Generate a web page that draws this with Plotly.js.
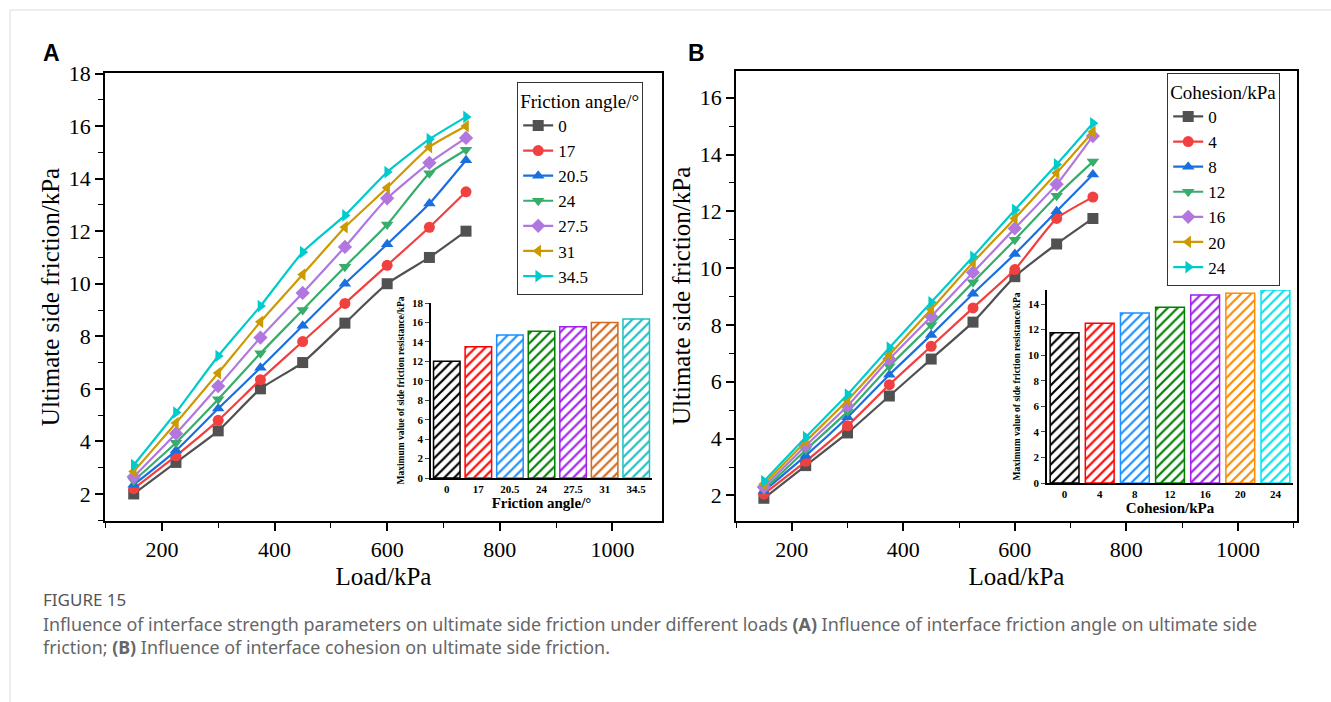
<!DOCTYPE html>
<html>
<head>
<meta charset="utf-8">
<script src="https://cdn.plot.ly/plotly-3.0.1.min.js"></script>
<style>
html,body{margin:0;padding:0;background:#fff;}
#chart{width:1331px;height:702px;}
</style>
</head>
<body>
<div id="chart"></div>
<script>
// ---------- data ----------
const loads = [150, 225, 300, 375, 450, 525, 600, 675, 740];

// Panel A: friction angle series (ultimate side friction, kPa)
const frictionAngles = ['0', '17', '20.5', '24', '27.5', '31', '34.5'];
const fa_0    = [2.0, 3.2, 4.4, 6.0, 7.0, 8.5, 10.0, 11.0, 12.0];
const fa_17   = [2.2, 3.45, 4.8, 6.35, 7.8, 9.25, 10.7, 12.15, 13.5];
const fa_20_5 = [2.35, 3.65, 5.25, 6.8, 8.4, 10.0, 11.5, 13.05, 14.7];
const fa_24   = [2.5, 3.95, 5.6, 7.35, 9.0, 10.65, 12.25, 14.2, 15.1];
const fa_27_5 = [2.65, 4.3, 6.1, 7.95, 9.65, 11.4, 13.25, 14.6, 15.55];
const fa_31   = [2.85, 4.7, 6.6, 8.55, 10.35, 12.15, 13.65, 15.2, 16.0];
const fa_34_5 = [3.1, 5.1, 7.25, 9.15, 11.2, 12.6, 14.25, 15.5, 16.35];
const maxFrictionA = [12.0, 13.5, 14.7, 15.1, 15.55, 16.0, 16.35];

// Panel B: cohesion series (ultimate side friction, kPa)
const cohesions = ['0', '4', '8', '12', '16', '20', '24'];
const co_0  = [1.9, 3.05, 4.2, 5.5, 6.8, 8.1, 9.7, 10.85, 11.75];
const co_4  = [2.05, 3.2, 4.45, 5.9, 7.25, 8.6, 9.95, 11.75, 12.5];
const co_8  = [2.15, 3.4, 4.75, 6.25, 7.65, 9.1, 10.5, 12.0, 13.3];
const co_12 = [2.2, 3.6, 4.95, 6.55, 8.0, 9.5, 11.0, 12.55, 13.75];
const co_16 = [2.3, 3.75, 5.15, 6.8, 8.3, 9.85, 11.4, 12.95, 14.65];
const co_20 = [2.4, 3.9, 5.35, 6.95, 8.55, 10.2, 11.75, 13.35, 14.8];
const co_24 = [2.5, 4.05, 5.55, 7.2, 8.8, 10.4, 12.05, 13.65, 15.1];
const maxFrictionB = [11.75, 12.5, 13.3, 13.75, 14.7, 14.85, 15.1];

// ---------- styles ----------
const lineColors = ['#515151', '#F14040', '#1A6FDF', '#37AD6B', '#B177DE', '#CC9900', '#00CBCC'];
const symbols = ['square', 'circle', 'triangle-up', 'triangle-down', 'diamond', 'triangle-left', 'triangle-right'];
const barColorsA = ['#000000', '#FF0000', '#1E90FF', '#008000', '#A020F0', '#D2691E', '#20C0C0'];
const barColorsB = ['#000000', '#FF0000', '#1E90FF', '#008000', '#A020F0', '#FF8C00', '#00E5EE'];
const SERIF = 'Liberation Serif';

const seriesA = [fa_0, fa_17, fa_20_5, fa_24, fa_27_5, fa_31, fa_34_5];
const seriesB = [co_0, co_4, co_8, co_12, co_16, co_20, co_24];

const traces = [];
seriesA.forEach((ys, i) => {
  traces.push({
    x: loads, y: ys, xaxis: 'x', yaxis: 'y', type: 'scatter', mode: 'lines+markers',
    name: frictionAngles[i], legend: 'legend',
    line: {color: lineColors[i], width: 2.2, shape: 'spline', smoothing: 0.5},
    marker: {symbol: symbols[i], size: 11, color: lineColors[i]}
  });
});
seriesB.forEach((ys, i) => {
  traces.push({
    x: loads, y: ys, xaxis: 'x2', yaxis: 'y2', type: 'scatter', mode: 'lines+markers',
    name: cohesions[i], legend: 'legend2',
    line: {color: lineColors[i], width: 2.2, shape: 'spline', smoothing: 0.5},
    marker: {symbol: symbols[i], size: 11, color: lineColors[i]}
  });
});
traces.push({
  x: frictionAngles, y: maxFrictionA, xaxis: 'x3', yaxis: 'y3', type: 'bar', showlegend: false, width: 0.84,
  marker: {color: 'white', line: {color: barColorsA, width: 1.5},
           pattern: {shape: '/', fgcolor: barColorsA, bgcolor: 'white', size: 7, solidity: 0.32}}
});
traces.push({
  x: cohesions, y: maxFrictionB, xaxis: 'x4', yaxis: 'y4', type: 'bar', showlegend: false, width: 0.82,
  marker: {color: 'white', line: {color: barColorsB, width: 1.5},
           pattern: {shape: '/', fgcolor: barColorsB, bgcolor: 'white', size: 7, solidity: 0.32}}
});

const W = 1331, H = 702;
const px = v => v / W;
const py = v => 1 - v / H;

function mainX(domain, range) {
  return {
    domain: domain, range: range, showline: true, mirror: true, linecolor: '#000', linewidth: 1.5,
    ticks: 'outside', ticklen: 8, tickwidth: 1.5, tickcolor: '#000', dtick: 200, tick0: 0,
    minor: {dtick: 100, ticks: 'outside', ticklen: 5, tickwidth: 1.2, tickcolor: '#000'},
    showgrid: false, zeroline: false,
    tickfont: {family: SERIF, size: 22, color: '#000'},
    title: {text: 'Load/kPa', font: {family: SERIF, size: 25, color: '#000'}, standoff: 6}
  };
}
function mainY(domain, range, anchor) {
  return {
    domain: domain, range: range, anchor: anchor, showline: true, mirror: true, linecolor: '#000', linewidth: 1.5,
    ticks: 'outside', ticklen: 8, tickwidth: 1.5, tickcolor: '#000', dtick: 2, tick0: 0,
    minor: {dtick: 1, ticks: 'outside', ticklen: 5, tickwidth: 1.2, tickcolor: '#000'},
    showgrid: false, zeroline: false,
    tickfont: {family: SERIF, size: 22, color: '#000'},
    title: {text: 'Ultimate side friction/kPa', font: {family: SERIF, size: 25, color: '#000'}, standoff: 2}
  };
}
function insetX(domain, anchor, title) {
  return {
    domain: domain, anchor: anchor, type: 'category', range: [-0.5, 6.5],
    showline: true, linecolor: '#000', linewidth: 1.5, ticks: '', showgrid: false, zeroline: false,
    tickfont: {family: SERIF, size: 11, color: '#000', weight: 'bold'},
    title: {text: '<b>' + title + '</b>', font: {family: SERIF, size: 15, color: '#000'}, standoff: 2}
  };
}
function insetY(domain, anchor, range, dtick) {
  return {
    domain: domain, anchor: anchor, range: range, dtick: dtick,
    showline: true, linecolor: '#000', linewidth: 1.5, ticks: 'outside', ticklen: 4, tickwidth: 1.2,
    showgrid: false, zeroline: false,
    tickfont: {family: SERIF, size: 11, color: '#000', weight: 'bold'},
    title: {text: '<b>Maximum value of side friction resistance/kPa</b>', font: {family: SERIF, size: 9.5, color: '#000'}, standoff: 6}
  };
}

const itemFont = {family: SERIF, size: 17, color: '#000'};
const legTitleFont = {family: SERIF, size: 19, color: '#000'};

const layout = {
  width: W, height: H, margin: {l: 0, r: 0, t: 0, b: 0},
  font: {family: SERIF, color: '#000'},
  paper_bgcolor: '#fff', plot_bgcolor: 'rgba(0,0,0,0)',
  showlegend: true,
  xaxis: Object.assign(mainX([px(105), px(662)], [99, 1088]), {anchor: 'y'}),
  yaxis: mainY([py(521), py(73)], [0.97, 18.02], 'x'),
  xaxis2: Object.assign(mainX([px(736), px(1297)], [100, 1106]), {anchor: 'y2'}),
  yaxis2: mainY([py(521), py(70.7)], [1.1, 16.95], 'x2'),
  xaxis3: insetX([px(431), px(652)], 'y3', 'Friction angle/°'),
  yaxis3: insetY([py(478), py(303)], 'x3', [0, 18], 2),
  xaxis4: insetX([px(1047), px(1293)], 'y4', 'Cohesion/kPa'),
  yaxis4: insetY([py(483), py(290)], 'x4', [0, 15.1], 2),
  legend: {
    x: px(517), y: py(82), xanchor: 'left', yanchor: 'top',
    bgcolor: '#fff', bordercolor: '#333', borderwidth: 1.2,
    font: itemFont, title: {text: 'Friction angle/°', font: legTitleFont},
    tracegroupgap: 0, itemwidth: 30
  },
  legend2: {
    x: px(1167), y: py(73), xanchor: 'left', yanchor: 'top',
    bgcolor: '#fff', bordercolor: '#333', borderwidth: 1.2,
    font: itemFont, title: {text: 'Cohesion/kPa', font: legTitleFont},
    tracegroupgap: 0, itemwidth: 30
  },
  shapes: [
    {type: 'line', xref: 'paper', yref: 'paper', x0: px(10), x1: 1, y0: py(10), y1: py(10), line: {color: '#dcdcdc', width: 1}},
    {type: 'line', xref: 'paper', yref: 'paper', x0: px(10), x1: px(10), y0: py(10), y1: 0, line: {color: '#dcdcdc', width: 1}}
  ],
  annotations: [
    {text: '<b>A</b>', xref: 'paper', yref: 'paper', x: px(41), y: py(53), xanchor: 'left', yanchor: 'middle', showarrow: false,
     font: {family: 'Liberation Sans', size: 23, color: '#000'}},
    {text: '<b>B</b>', xref: 'paper', yref: 'paper', x: px(686), y: py(53), xanchor: 'left', yanchor: 'middle', showarrow: false,
     font: {family: 'Liberation Sans', size: 23, color: '#000'}},
    {text: 'FIGURE 15', xref: 'paper', yref: 'paper', x: px(41), y: py(599), xanchor: 'left', yanchor: 'middle', showarrow: false,
     font: {family: 'Noto Sans', size: 17, color: '#555'}},
    {text: 'Influence of interface strength parameters on ultimate side friction under different loads <b>(A)</b> Influence of interface friction angle on ultimate side<br>friction; <b>(B)</b> Influence of interface cohesion on ultimate side friction.',
     xref: 'paper', yref: 'paper', x: px(41), y: py(610), xanchor: 'left', yanchor: 'top', align: 'left', showarrow: false,
     font: {family: 'Noto Sans', size: 17.9, color: '#666'}}
  ]
};

Plotly.newPlot('chart', traces, layout, {displayModeBar: false, responsive: false});
</script>
</body>
</html>
